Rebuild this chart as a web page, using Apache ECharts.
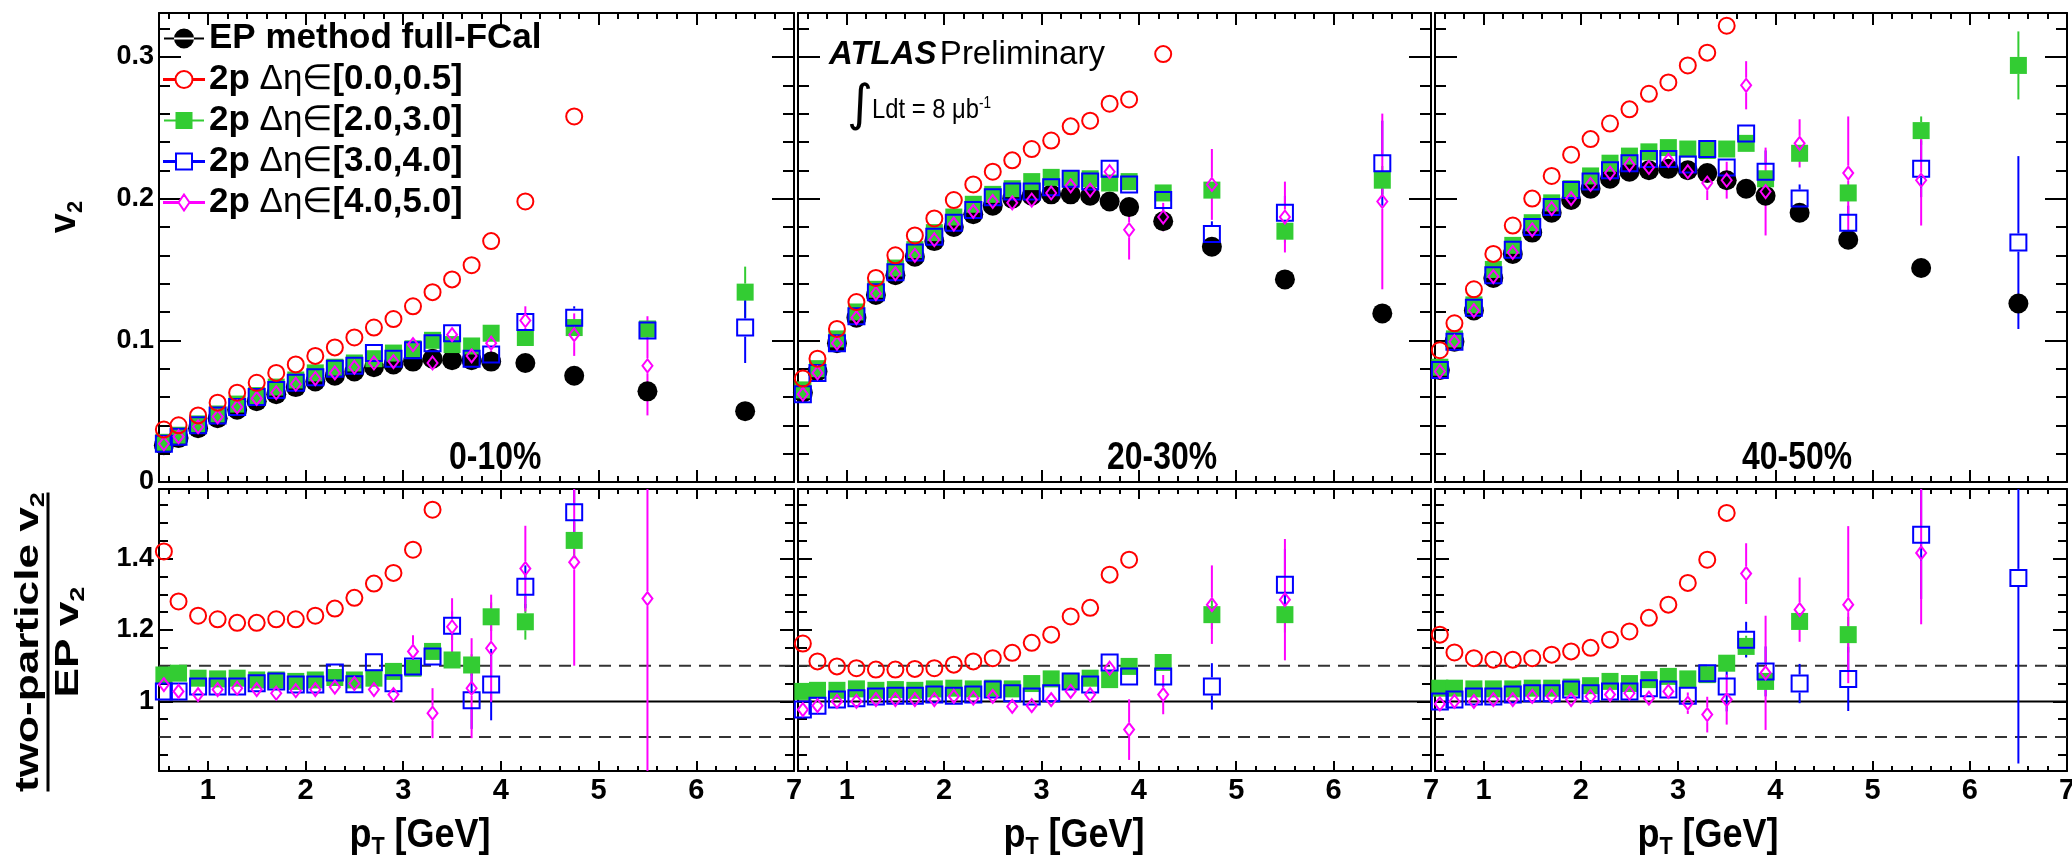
<!DOCTYPE html>
<html><head><meta charset="utf-8">
<script src="https://cdn.jsdelivr.net/npm/echarts@6/dist/echarts.min.js"></script>
<style>html,body{margin:0;padding:0;background:#fff}#c{width:2072px;height:860px}</style>
</head><body><div id="c"></div>
<script>
// ---------------- data ----------------
const PT = [0.55,0.7,0.9,1.1,1.3,1.5,1.7,1.9,2.1,2.3,2.5,2.7,2.9,3.1,3.3,3.5,3.7,3.9,4.25,4.75,5.5,6.5];
const X_MAJOR = [1,2,3,4,5,6,7];
const X_MINOR = [0.6,0.8,1.2,1.4,1.6,1.8,2.2,2.4,2.6,2.8,3.2,3.4,3.6,3.8,4.2,4.4,4.6,4.8,5.2,5.4,5.6,5.8,6.2,6.4,6.6,6.8];
const Y_TOP_MAJOR = [0,0.1,0.2,0.3];
const Y_TOP_MINOR = [0.02,0.04,0.06,0.08,0.12,0.14,0.16,0.18,0.22,0.24,0.26,0.28,0.32];
const Y_BOT_MAJOR = [1,1.2,1.4];
const Y_BOT_MINOR = [0.85,0.9,0.95,1.05,1.1,1.15,1.25,1.3,1.35,1.45,1.5,1.55];
const REF_LINES = [0.9,1.0,1.1];
const CENTRALITY = ['0-10%','20-30%','40-50%'];

// 0-10%
const v2_EP_010  = [0.026,0.031,0.038,0.045,0.051,0.057,0.062,0.067,0.071,0.075,0.078,0.081,0.083,0.085,0.087,0.086,0.086,0.085,0.084,0.075,0.064,0.050];
const v2_d05_010 = [0.037,0.040,0.047,0.056,0.063,0.070,0.077,0.083,0.089,0.095,0.102,0.109,0.115,0.124,0.134,0.143,0.153,0.170,0.198,0.258,null,null];
const v2_d23_010 = [0.028,0.033,0.041,0.048,0.055,0.061,0.067,0.072,0.077,0.081,0.084,0.087,0.091,0.094,0.100,0.097,0.096,0.105,0.102,0.109,0.108,0.134];
const v2_d34_010 = [0.027,0.032,0.040,0.047,0.053,0.060,0.065,0.070,0.074,0.080,0.082,0.091,0.087,0.093,0.098,0.105,0.087,0.090,0.113,0.116,0.107,0.109];
const v2_d45_010 = [0.027,0.032,0.039,0.046,0.053,0.059,0.063,0.069,0.073,0.077,0.081,0.084,0.085,0.097,0.084,0.104,0.089,0.098,0.114,0.104,0.082,null];
const e_v2_d23_010 = [0,0,0,0,0,0,0,0,0,0, 0,0,0,0,0,0,0,0,0,0.004,0.005,0.018];
const e_v2_d34_010 = [0,0,0,0,0,0,0,0,0,0, 0,0,0,0,0,0,0,0,0.004,0.008,0.006,0.025];
const e_v2_d45_010 = [0,0,0,0,0,0,0,0,0,0, 0,0,0,0,0,0,0.008,0.008,0.01,0.015,0.035,0];
const r_d05_010 = [1.42,1.28,1.24,1.23,1.22,1.22,1.23,1.23,1.24,1.26,1.29,1.33,1.36,1.425,1.537,null,null,null,null,null,null,null];
const r_d23_010 = [1.074,1.079,1.065,1.063,1.065,1.06,1.06,1.056,1.06,1.067,1.06,1.065,1.084,1.093,1.14,1.116,1.102,1.237,1.223,1.451,null,null];
const r_d34_010 = [1.028,1.028,1.042,1.042,1.042,1.051,1.056,1.047,1.047,1.081,1.048,1.11,1.051,1.098,1.126,1.212,1.003,1.047,1.321,1.53,null,null];
const r_d45_010 = [1.047,1.028,1.019,1.033,1.037,1.033,1.023,1.03,1.033,1.04,1.05,1.033,1.019,1.14,0.967,1.209,1.037,1.149,1.372,1.39,1.288,null];
const e_r_d23_010 = [0,0,0,0,0,0,0,0,0,0, 0,0,0,0,0,0,0.03,0.04,0.05,0.05,0,0];
const e_r_d34_010 = [0,0,0,0,0,0,0,0,0,0, 0,0,0,0,0,0.04,0.08,0.1,0.06,0.1,0,0];
const e_r_d45_010 = [0,0,0,0,0,0,0,0,0,0, 0,0,0,0.045,0.07,0.08,0.14,0.15,0.12,0.29,0.6,0];

// 20-30%
const v2_EP_2030  = [0.063,0.078,0.098,0.116,0.132,0.146,0.159,0.170,0.180,0.189,0.195,0.200,0.202,0.203,0.203,0.202,0.198,0.194,0.184,0.166,0.143,0.119];
const v2_d05_2030 = [0.073,0.087,0.108,0.127,0.144,0.160,0.174,0.186,0.199,0.210,0.219,0.227,0.235,0.241,0.251,0.255,0.267,0.270,0.302,null,null,null];
const v2_d23_2030 = [0.065,0.080,0.101,0.120,0.136,0.151,0.164,0.176,0.187,0.196,0.203,0.207,0.212,0.215,0.214,0.214,0.211,0.212,0.204,0.206,0.177,0.213];
const v2_d34_2030 = [0.062,0.077,0.098,0.117,0.134,0.148,0.162,0.173,0.183,0.192,0.201,0.205,0.205,0.208,0.214,0.212,0.221,0.210,0.199,0.175,0.190,0.225];
const v2_d45_2030 = [0.062,0.077,0.098,0.116,0.133,0.147,0.160,0.171,0.182,0.191,0.198,0.197,0.199,0.204,0.209,0.206,0.219,0.178,0.187,0.210,0.187,0.198];
const e_v2_d23_2030 = [0,0,0,0,0,0,0,0,0,0, 0,0,0,0,0,0,0,0,0,0.006,0.008,0.01];
const e_v2_d34_2030 = [0,0,0,0,0,0,0,0,0,0, 0,0,0,0,0,0,0,0.005,0.008,0.009,0.012,0.03];
const e_v2_d45_2030 = [0,0,0,0,0,0,0,0,0,0, 0,0,0,0,0,0,0,0.021,0.01,0.025,0.025,0.062];
const r_d05_2030 = [1.162,1.112,1.098,1.093,1.089,1.089,1.091,1.093,1.103,1.112,1.121,1.136,1.164,1.187,1.238,1.262,1.355,1.397,null,null,null,null];
const r_d23_2030 = [1.028,1.031,1.031,1.035,1.031,1.033,1.031,1.035,1.037,1.035,1.037,1.035,1.05,1.063,1.056,1.065,1.061,1.098,1.109,1.243,1.243,null];
const r_d34_2030 = [0.977,0.988,1.005,1.009,1.014,1.016,1.016,1.019,1.016,1.019,1.033,1.023,1.014,1.023,1.056,1.047,1.109,1.07,1.07,1.042,1.327,null];
const r_d45_2030 = [0.977,0.988,1.0,1.0,1.005,1.005,1.005,1.005,1.014,1.009,1.014,0.986,0.988,1.005,1.028,1.019,1.093,0.921,1.019,1.271,1.285,null];
const e_r_d23_2030 = [0,0,0,0,0,0,0,0,0,0, 0,0,0,0,0,0,0,0,0,0.04,0.05,0];
const e_r_d34_2030 = [0,0,0,0,0,0,0,0,0,0, 0,0,0,0,0,0,0,0.02,0.03,0.065,0.1,0];
const e_r_d45_2030 = [0,0,0,0,0,0,0,0,0,0, 0,0,0,0,0,0.02,0,0.085,0.055,0.11,0.17,0];

// 40-50%
const v2_EP_4050  = [0.079,0.099,0.121,0.144,0.161,0.176,0.190,0.199,0.207,0.214,0.219,0.220,0.221,0.220,0.218,0.213,0.207,0.202,0.190,0.171,0.151,0.126];
const v2_d05_4050 = [0.093,0.112,0.136,0.161,0.181,0.200,0.216,0.231,0.242,0.253,0.263,0.274,0.282,0.294,0.303,0.322,null,null,null,null,null,null];
const v2_d23_4050 = [0.081,0.101,0.125,0.150,0.167,0.183,0.197,0.207,0.216,0.225,0.230,0.233,0.236,0.235,0.234,0.235,0.239,0.214,0.232,0.204,0.248,0.294];
const v2_d34_4050 = [0.079,0.099,0.123,0.146,0.164,0.180,0.194,0.206,0.212,0.220,0.225,0.228,0.228,0.224,0.235,0.222,0.246,0.219,0.200,0.183,0.221,0.169];
const v2_d45_4050 = [0.078,0.099,0.121,0.145,0.162,0.178,0.193,0.200,0.210,0.218,0.224,0.222,0.227,0.219,0.211,0.213,0.280,0.205,0.239,0.218,0.213,null];
const e_v2_d23_4050 = [0,0,0,0,0,0,0,0,0,0, 0,0,0,0,0,0,0,0,0,0,0.01,0.024];
const e_v2_d34_4050 = [0,0,0,0,0,0,0,0,0,0, 0,0,0,0,0,0,0.006,0.015,0.01,0.012,0.02,0.061];
const e_v2_d45_4050 = [0,0,0,0,0,0,0,0,0,0, 0,0,0,0,0.012,0.013,0.017,0.031,0.017,0.04,0.032,0];
const r_d05_4050 = [1.187,1.137,1.121,1.117,1.117,1.121,1.131,1.14,1.15,1.173,1.196,1.234,1.271,1.332,1.397,1.528,null,null,null,null,null,null];
const r_d23_4050 = [1.037,1.037,1.035,1.035,1.035,1.037,1.037,1.04,1.044,1.056,1.05,1.061,1.07,1.063,1.075,1.107,1.154,1.056,1.224,1.187,null,null];
const r_d34_4050 = [1.0,1.005,1.014,1.014,1.019,1.023,1.023,1.033,1.023,1.028,1.028,1.037,1.033,1.016,1.079,1.042,1.173,1.084,1.05,1.063,1.467,1.346];
const r_d45_4050 = [0.993,1.0,1.0,1.005,1.005,1.014,1.014,1.005,1.014,1.019,1.023,1.009,1.028,0.995,0.963,1.005,1.358,1.08,1.257,1.271,1.416,null];
const e_r_d23_4050 = [0,0,0,0,0,0,0,0,0,0, 0,0,0,0,0,0,0.03,0,0,0.05,0,0];
const e_r_d34_4050 = [0,0,0,0,0,0,0,0,0,0, 0,0,0,0,0,0.07,0.05,0.07,0.055,0.09,0.18,0.52];
const e_r_d45_4050 = [0,0,0,0,0,0,0,0,0,0, 0,0,0,0.03,0.05,0.07,0.085,0.16,0.09,0.22,0.2,0];

// ---------------- tables built from the arrays ----------------
const PANEL_VALUES = [
  {top:{EP:v2_EP_010, d23:v2_d23_010, d34:v2_d34_010, d45:v2_d45_010, d05:v2_d05_010},
   topErr:{d23:e_v2_d23_010, d34:e_v2_d34_010, d45:e_v2_d45_010},
   bot:{d23:r_d23_010, d34:r_d34_010, d45:r_d45_010, d05:r_d05_010},
   botErr:{d23:e_r_d23_010, d34:e_r_d34_010, d45:e_r_d45_010}},
  {top:{EP:v2_EP_2030, d23:v2_d23_2030, d34:v2_d34_2030, d45:v2_d45_2030, d05:v2_d05_2030},
   topErr:{d23:e_v2_d23_2030, d34:e_v2_d34_2030, d45:e_v2_d45_2030},
   bot:{d23:r_d23_2030, d34:r_d34_2030, d45:r_d45_2030, d05:r_d05_2030},
   botErr:{d23:e_r_d23_2030, d34:e_r_d34_2030, d45:e_r_d45_2030}},
  {top:{EP:v2_EP_4050, d23:v2_d23_4050, d34:v2_d34_4050, d45:v2_d45_4050, d05:v2_d05_4050},
   topErr:{d23:e_v2_d23_4050, d34:e_v2_d34_4050, d45:e_v2_d45_4050},
   bot:{d23:r_d23_4050, d34:r_d34_4050, d45:r_d45_4050, d05:r_d05_4050},
   botErr:{d23:e_r_d23_4050, d34:e_r_d34_4050, d45:e_r_d45_4050}}
];

const FONT = '"Liberation Sans", Arial, Helvetica, sans-serif';
const SPEC = {
  EP:  {name:'EP method full-FCal', symbol:'circle',  size:20,      fill:'#000000', stroke:null,     gap:10},
  d05: {name:'2p Δη∈[0.0,0.5]',     symbol:'circle',  size:16,      fill:'rgba(0,0,0,0)', stroke:'#ff0000', gap:9},
  d23: {name:'2p Δη∈[2.0,3.0]',     symbol:'rect',    size:17,      fill:'#33cc33', stroke:null,     gap:8.5},
  d34: {name:'2p Δη∈[3.0,4.0]',     symbol:'rect',    size:16,      fill:'rgba(0,0,0,0)', stroke:'#0000ff', gap:9},
  d45: {name:'2p Δη∈[4.0,5.0]',     symbol:'diamond', size:[10,13], fill:'rgba(0,0,0,0)', stroke:'#ff00ff', gap:7.5}
};
const ORDER = ['EP','d23','d34','d45','d05'];
const PANEL_X = [[159,794],[798,1431],[1435,2067]];
const ROW_Y = [[13,482],[489,771]];
const Y_RANGE = [[0,0.331],[0.805,1.595]];
const XTITLE_CX = [420,1074,1708];
const CENT_X = [449,1107,1742];

const grids = [], xAxes = [], yAxes = [], series = [];
const tickLine = {color:'#000', width:2};

for (let r = 0; r < 2; r++) {
  for (let c = 0; c < 3; c++) {
    const g = r * 3 + c, lower = r === 1;
    const [l, rt] = PANEL_X[c], [t, b] = ROW_Y[r];
    grids.push({left:l, top:t, width:rt - l, height:b - t, containLabel:false, outerBoundsMode:'none'});
    const xMaj = lower ? 10 : 12, xMin = lower ? 5 : 6;
    const yMaj = lower ? 14 : 22, yMin = lower ? 9 : 11;
    const xb = {type:'value', gridIndex:g, min:0.5, max:7, splitLine:{show:false}, axisPointer:{show:false}};
    xAxes.push(Object.assign({}, xb, {position:'bottom',
      axisLine:{show:true, onZero:false, lineStyle:tickLine},
      axisTick:{show:true, inside:true, length:xMaj, customValues:X_MAJOR, lineStyle:tickLine},
      axisLabel:{show:lower, customValues:X_MAJOR, margin:5, fontSize:29, fontWeight:'bold', fontFamily:FONT, color:'#000'}
    }));
    xAxes.push(Object.assign({}, xb, {position:'bottom', axisLine:{show:false, onZero:false},
      axisTick:{show:true, inside:true, length:xMin, customValues:X_MINOR, lineStyle:tickLine}, axisLabel:{show:false}}));
    xAxes.push(Object.assign({}, xb, {position:'top', axisLine:{show:true, onZero:false, lineStyle:tickLine},
      axisTick:{show:true, inside:true, length:xMaj, customValues:X_MAJOR, lineStyle:tickLine}, axisLabel:{show:false}}));
    xAxes.push(Object.assign({}, xb, {position:'top', axisLine:{show:false, onZero:false},
      axisTick:{show:true, inside:true, length:xMin, customValues:X_MINOR, lineStyle:tickLine}, axisLabel:{show:false}}));

    const [ymn, ymx] = Y_RANGE[r];
    const major = lower ? Y_BOT_MAJOR : Y_TOP_MAJOR, minor = lower ? Y_BOT_MINOR : Y_TOP_MINOR;
    const yb = {type:'value', gridIndex:g, min:ymn, max:ymx, splitLine:{show:false}, axisPointer:{show:false}};
    yAxes.push(Object.assign({}, yb, {position:'left', axisLine:{show:true, onZero:false, lineStyle:tickLine},
      axisTick:{show:true, inside:true, length:yMaj, customValues:major, lineStyle:tickLine},
      axisLabel:{show:c === 0, customValues:major, margin:5, fontSize:27, fontWeight:'bold', fontFamily:FONT, color:'#000',
        formatter: v => String(+(+v).toFixed(2))}}));
    yAxes.push(Object.assign({}, yb, {position:'left', axisLine:{show:false, onZero:false},
      axisTick:{show:true, inside:true, length:yMin, customValues:minor, lineStyle:tickLine}, axisLabel:{show:false}}));
    yAxes.push(Object.assign({}, yb, {position:'right', axisLine:{show:true, onZero:false, lineStyle:tickLine},
      axisTick:{show:true, inside:true, length:yMaj, customValues:major, lineStyle:tickLine}, axisLabel:{show:false}}));
    yAxes.push(Object.assign({}, yb, {position:'right', axisLine:{show:false, onZero:false},
      axisTick:{show:true, inside:true, length:yMin, customValues:minor, lineStyle:tickLine}, axisLabel:{show:false}}));

    if (lower) {
      REF_LINES.forEach(v => {
        series.push({type:'line', xAxisIndex:4*g, yAxisIndex:4*g, data:[[0.5, v],[7, v]], symbol:'none', silent:true,
          lineStyle:{color: v === 1 ? '#000' : '#333', width:2, type: v === 1 ? 'solid' : [12, 8]}, z:1, animation:false});
      });
    }

    const P = PANEL_VALUES[c];
    const vals = lower ? P.bot : P.top, errs = lower ? P.botErr : P.topErr;
    ORDER.forEach(key => {
      const arr = vals[key];
      if (!arr) return;
      const s = SPEC[key];
      const data = [];
      for (let i = 0; i < PT.length; i++) if (arr[i] != null) data.push([PT[i], arr[i], errs[key] ? errs[key][i] : 0]);
      const edata = data.filter(d => d[2] > 0);
      if (edata.length) {
        const col = s.stroke || s.fill, gap = s.gap;
        series.push({type:'custom', xAxisIndex:4*g, yAxisIndex:4*g, data:edata, silent:true, animation:false, z:2,
          encode:{x:0, y:1},
          renderItem: (params, api) => {
            const x = api.value(0), y = api.value(1), e = api.value(2);
            const hiV = Math.min(y + e, ymx), loV = Math.max(y - e, ymn);
            const p = api.coord([x, y]), hi = api.coord([x, hiV]), lo = api.coord([x, loV]);
            const ch = [];
            if (p[1] - gap > hi[1]) ch.push({type:'line', shape:{x1:p[0], y1:hi[1], x2:p[0], y2:p[1]-gap}, style:{stroke:col, lineWidth:2}});
            if (lo[1] > p[1] + gap) ch.push({type:'line', shape:{x1:p[0], y1:p[1]+gap, x2:p[0], y2:lo[1]}, style:{stroke:col, lineWidth:2}});
            return {type:'group', children:ch};
          }});
      }
      series.push({type:'scatter', name:s.name, xAxisIndex:4*g, yAxisIndex:4*g, data, symbol:s.symbol, symbolSize:s.size,
        itemStyle:{color:s.fill, borderColor:s.stroke || s.fill, borderWidth:s.stroke ? 2 : 0, opacity:1},
        emphasis:{disabled:true}, silent:true, animation:false, z:2});
    });
  }
}

const LEGEND_ICON = {
  EP:  'path://M0,0M40,24M0,11H40V13H0Z M10,12A10,10 0 1 0 30,12A10,10 0 1 0 10,12Z',
  d05: 'path://M0,0M40,24M0,11.5H11V12.5H0Z M29,11.5H40V12.5H29Z M11.5,12A8.5,8.5 0 1 0 28.5,12A8.5,8.5 0 1 0 11.5,12Z',
  d23: 'path://M0,0M40,24M0,11H40V13H0Z M11.5,3.5H28.5V20.5H11.5Z',
  d34: 'path://M0,0M40,24M0,11.5H12V12.5H0Z M28,11.5H40V12.5H28Z M12,4H28V20H12Z',
  d45: 'path://M0,0M40,24M0,11.5H14.5V12.5H0Z M25.5,11.5H40V12.5H25.5Z M20,4L25.5,12L20,20L14.5,12Z'
};
const LEGEND_ORDER = ['EP','d05','d23','d34','d45'];
const legendData = LEGEND_ORDER.map(k => {
  const s = SPEC[k];
  return {name:s.name, icon:LEGEND_ICON[k],
    itemStyle:{color:s.fill, borderColor:s.stroke || s.fill, borderWidth:s.stroke ? 2 : 0}};
});

const subRich = (fs) => ({s:{fontFamily:FONT, fontSize:fs, fontWeight:'bold', fill:'#000', verticalAlign:'bottom', lineHeight:fs}});
const graphics = [
  {type:'text', x:65, y:217, rotation:Math.PI/2, silent:true, style:{text:'v{s|2}', fontFamily:FONT, fontSize:36, fontWeight:'bold', fill:'#000',
    align:'center', verticalAlign:'middle', lineHeight:44, rich:subRich(22)}},
  {type:'group', x:48, y:642, rotation:Math.PI/2, scaleX:1.3, scaleY:1, silent:true, children:[
    {type:'text', x:0, y:-19, style:{text:'two-particle v{s|2}', fontFamily:FONT, fontSize:34, fontWeight:'bold', fill:'#000',
      align:'center', verticalAlign:'middle', lineHeight:40, rich:subRich(21)}},
    {type:'rect', shape:{x:-115, y:-1.5, width:230, height:3}, style:{fill:'#000'}},
    {type:'text', x:0, y:21, style:{text:'EP v{s|2}', fontFamily:FONT, fontSize:34, fontWeight:'bold', fill:'#000',
      align:'center', verticalAlign:'middle', lineHeight:40, rich:subRich(21)}}
  ]},
  {type:'text', x:829, y:55, silent:true, style:{text:'{a|ATLAS} {b|Preliminary}', verticalAlign:'middle', fill:'#000',
    rich:{a:{fontFamily:FONT, fontSize:33, fontWeight:'bold', fontStyle:'italic', fill:'#000'},
          b:{fontFamily:FONT, fontSize:33, fontWeight:'normal', fill:'#000'}}}},
  {type:'text', x:860, y:107, silent:true, style:{text:'∫', fontFamily:'"DejaVu Sans", sans-serif', fontSize:50, align:'center', verticalAlign:'middle', fill:'#000'}},
  {type:'text', x:872, y:110, scaleX:0.85, silent:true, style:{text:'Ldt = 8 μb{sup|-1}', fontFamily:FONT, fontSize:28, verticalAlign:'middle', fill:'#000',
    rich:{sup:{fontFamily:FONT, fontSize:16, verticalAlign:'top', lineHeight:16, fill:'#000'}}}}
];
CENTRALITY.forEach((s, i) => graphics.push({type:'text', x:CENT_X[i], y:459, scaleX:0.84, silent:true,
  style:{text:s, fontFamily:FONT, fontSize:38, fontWeight:'bold', fill:'#000', verticalAlign:'middle'}}));
XTITLE_CX.forEach(cx => graphics.push({type:'text', x:cx, y:836, scaleX:0.9, silent:true,
  style:{text:'p{s|T} [GeV]', fontFamily:FONT, fontSize:40, fontWeight:'bold', fill:'#000', align:'center', verticalAlign:'middle', lineHeight:46,
    rich:{s:{fontFamily:FONT, fontSize:24, fontWeight:'bold', fill:'#000', verticalAlign:'bottom', lineHeight:24}}}}));

const option = {
  animation:false,
  backgroundColor:'#fff',
  grid:grids, xAxis:xAxes, yAxis:yAxes, series,
  legend:{left:158, top:16, orient:'vertical', itemWidth:40, itemHeight:24, itemGap:6, selectedMode:false,
    data:legendData,
    formatter: n => n.replace('Δη∈', '{g|Δη∈}'),
    textStyle:{fontFamily:FONT, fontSize:35, fontWeight:'bold', color:'#000', lineHeight:30,
      rich:{g:{fontFamily:FONT, fontSize:35, fontWeight:'normal', color:'#000', lineHeight:30}}}},
  graphic:graphics
};
const chart = echarts.init(document.getElementById('c'), null, {renderer:'canvas', width:2072, height:860});
chart.setOption(option);
</script></body></html>
